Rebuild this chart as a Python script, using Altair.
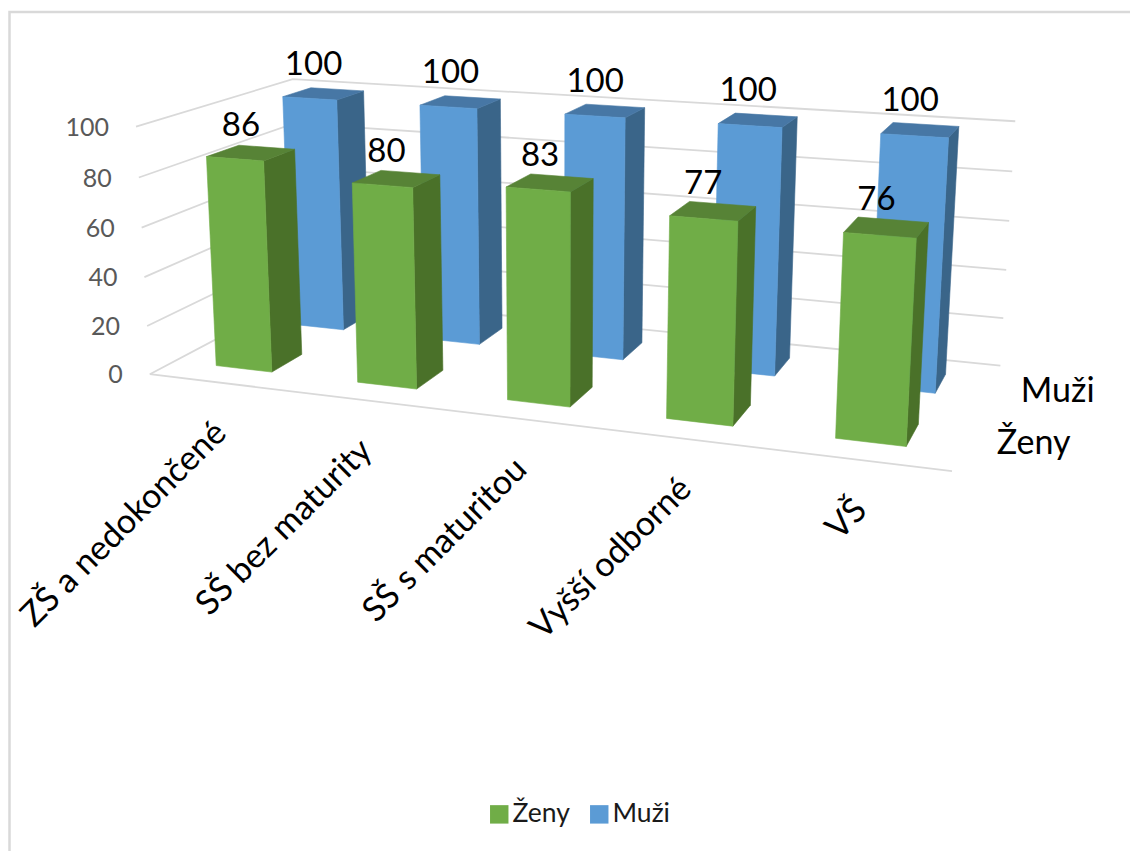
import altair as alt
import numpy as np
import pandas as pd

categories = ["ZŠ a nedokončené", "SŠ bez maturity", "SŠ s maturitou", "Vyšší odborné", "VŠ"]
series = ["Ženy", "Muži"]
zeny = [86, 80, 83, 77, 76]
muzi = [100, 100, 100, 100, 100]
value_ticks = [0, 20, 40, 60, 80, 100]

FONT = "Lato"
GREEN = {"front": "#70AD47", "side": "#4A7129", "top": "#578336"}
BLUE = {"front": "#5B9BD5", "side": "#3A6589", "top": "#4777A5"}
GRID = "#D9D9D9"
W, H = 1130, 851

# Bars occupy the middle of their cell along both floor axes.
LO, HI = 0.3, 0.7

# Camera solve: world (category, series, value) against screen anchors of the box and bars.
anchors = [
    ((0, 0, 0), (150, 374)), ((0, 0, 100), (134, 126)), ((0, 2, 100), (294, 80)),
    ((5, 2, 100), (1016, 121)), ((5, 2, 0), (1000, 366)), ((5, 0, 0), (953, 472)), ((0, 2, 0), (295, 296)),
]
bar_anchors = {
    (0, 0): [(206, 157), (263, 161), (295, 149), (238, 146), (273, 372), (302, 353), (217, 365)],
    (1, 0): [(352, 183), (413, 188), (439, 175), (382, 171), (417, 389), (443, 371), (358, 382)],
    (2, 0): [(506, 187), (570, 192), (593, 178), (531, 174), (570, 407), (592, 388), (508, 400)],
    (3, 0): [(669, 216), (738, 221), (755, 207), (689, 202), (733, 426), (750, 406), (667, 418)],
    (4, 0): [(843, 233), (917, 238), (928, 223), (858, 217), (906, 447), (918, 424), (835, 438)],
    (0, 1): [(283, 97), (337, 100), (364, 91), (313, 88), (345, 329), None, None],
    (1, 1): [(420, 105), (477, 108), (500, 99), (445, 96), (480, 344), (503, 328), None],
    (2, 1): [(565, 113), (625, 118), (644, 108), (587, 104), (623, 359), (642, 343), None],
    (3, 1): [(718, 123), (782, 127), (797, 117), (735, 113), (775, 376), (789, 358), None],
    (4, 1): [(881, 133), (948, 138), (959, 127), (893, 122), (935, 393), (946, 374), None],
}
heights = [zeny, muzi]
for (i, s), pts in bar_anchors.items():
    v = heights[s][i]
    world = [
        (i + LO, s + LO, v), (i + HI, s + LO, v), (i + HI, s + HI, v), (i + LO, s + HI, v),
        (i + HI, s + LO, 0), (i + HI, s + HI, 0), (i + LO, s + LO, 0),
    ]
    anchors += [(w, p) for w, p in zip(world, pts) if p is not None]

rows, rhs = [], []
for (X, Y, Z), (u, v) in anchors:
    Z = Z / 100
    rows.append([X, Y, Z, 1, 0, 0, 0, 0, -u * X, -u * Y, -u * Z])
    rows.append([0, 0, 0, 0, X, Y, Z, 1, -v * X, -v * Y, -v * Z])
    rhs += [u, v]
sol = np.linalg.lstsq(np.array(rows, float), np.array(rhs, float), rcond=None)[0]
CAM = np.append(sol, 1.0).reshape(3, 4)


def project(X, Y, Z):
    u, v, w = CAM @ np.array([X, Y, Z / 100, 1.0])
    return u / w, v / w


x_scale = alt.Scale(domain=[0, W], range=[0, W], nice=False, zero=False)
y_scale = alt.Scale(domain=[0, H], range=[0, H], nice=False, zero=False)
X_ENC = alt.X("x:Q", scale=x_scale, axis=None)
Y_ENC = alt.Y("y:Q", scale=y_scale, axis=None)

# Polygons for the bar faces, back row first so the front row paints over it.
faces = []
fid = 0


def add_face(corners, color):
    global fid
    for k, c in enumerate(corners):
        x, y = project(*c)
        faces.append({"x": x, "y": y, "face": fid, "k": k, "color": color})
    fid += 1


for s, vals, pal in [(1, muzi, BLUE), (0, zeny, GREEN)]:
    y0, y1 = s + LO, s + HI
    for i, v in enumerate(vals):
        x0, x1 = i + LO, i + HI
        add_face([(x1, y0, 0), (x1, y1, 0), (x1, y1, v), (x1, y0, v)], pal["side"])
        add_face([(x0, y0, v), (x1, y0, v), (x1, y1, v), (x0, y1, v)], pal["top"])
        add_face([(x0, y0, 0), (x1, y0, 0), (x1, y0, v), (x0, y0, v)], pal["front"])

polygons = alt.Chart(pd.DataFrame(faces)).mark_line(strokeWidth=0.6, interpolate="linear-closed").encode(
    x=X_ENC, y=Y_ENC,
    detail="face:N", order="k:Q",
    fill=alt.Fill("color:N", scale=None),
    stroke=alt.Stroke("color:N", scale=None),
)

# Walls: value gridlines along the left wall and the back wall, plus the front floor edge.
grid_rows = []
gid = 0
for t in value_ticks:
    for k, c in enumerate([(0, 0, t), (0, 2, t), (5, 2, t)]):
        x, y = project(*c)
        grid_rows.append({"x": x, "y": y, "g": gid, "k": k})
    gid += 1
for k, c in enumerate([(0, 0, 0), (5, 0, 0)]):
    x, y = project(*c)
    grid_rows.append({"x": x, "y": y, "g": gid, "k": k})
gridlines = alt.Chart(pd.DataFrame(grid_rows)).mark_line(color=GRID, strokeWidth=1.8).encode(
    x=X_ENC, y=Y_ENC, detail="g:N", order="k:Q"
)

tick_df = pd.DataFrame([{"x": project(0, 0, t)[0], "y": project(0, 0, t)[1], "t": str(t)} for t in value_ticks])
tick_labels = alt.Chart(tick_df).mark_text(
    font=FONT, fontSize=25, color="#595959", align="right", baseline="middle", dx=-27, dy=1
).encode(x=X_ENC, y=Y_ENC, text="t:N")


def value_layer(s, vals, lift):
    # Value labels float just above the centre of each bar's top face.
    anchors_xy = [project(i + 0.5, s + 0.5, v) for i, v in enumerate(vals)]
    df = pd.DataFrame({"x": [a[0] for a in anchors_xy], "y": [a[1] for a in anchors_xy], "t": [str(v) for v in vals]})
    return alt.Chart(df).mark_text(
        font=FONT, fontSize=33, color="#000000", align="center", baseline="middle", dx=-10, dy=-lift
    ).encode(x=X_ENC, y=Y_ENC, text="t:N")


value_labels_m = value_layer(1, muzi, 29)
value_labels_z = value_layer(0, zeny, 27)

cat_df = pd.DataFrame([{"x": project(i + 0.5, 0, 0)[0], "y": project(i + 0.5, 0, 0)[1], "t": c} for i, c in enumerate(categories)])
cat_labels = alt.Chart(cat_df).mark_text(
    font=FONT, fontSize=34, color="#000000", align="right", baseline="middle", angle=315, dx=-31, dy=33
).encode(x=X_ENC, y=Y_ENC, text="t:N")

series_df = pd.DataFrame([{"x": project(5, s + 0.5, 0)[0], "y": project(5, s + 0.5, 0)[1], "t": n} for s, n in enumerate(series)])
series_labels = alt.Chart(series_df).mark_text(
    font=FONT, fontSize=34, color="#000000", align="center", baseline="middle", dx=68, dy=3
).encode(x=X_ENC, y=Y_ENC, text="t:N")

# The legend is generated by a zero-sized layer so the faces can keep their shaded fills.
legend_df = pd.DataFrame({"series": series, "x": [0, 0], "y": [0, 0]})
legend_layer = alt.Chart(legend_df).mark_point(filled=True, shape="square", size=0).encode(
    x=X_ENC, y=Y_ENC,
    color=alt.Color(
        "series:N",
        scale=alt.Scale(domain=series, range=[GREEN["front"], BLUE["front"]]),
        legend=alt.Legend(
            title=None, orient="none", legendX=486, legendY=801, direction="horizontal",
            symbolType="square", symbolSize=340, symbolOpacity=1, labelFont=FONT, labelFontSize=26.5,
            labelColor="#1A1A1A", columnPadding=16, labelOffset=0,
        ),
    ),
)

frame_df = pd.DataFrame({"x": [9.5, 9.5, 1130], "y": [851, 12, 12], "k": [0, 1, 2]})
frame = alt.Chart(frame_df).mark_line(color=GRID, strokeWidth=2.5).encode(x=X_ENC, y=Y_ENC, order="k:Q")

chart = alt.layer(
    frame, gridlines, polygons, tick_labels, cat_labels, series_labels,
    value_labels_m, value_labels_z, legend_layer
).properties(
    width=W, height=H, padding=0, autosize=alt.AutoSizeParams(type="none"),
    background="#FFFFFF",
).configure_view(stroke=None)

chart.save("out.html", embed_options={"renderer": "svg", "actions": False})
